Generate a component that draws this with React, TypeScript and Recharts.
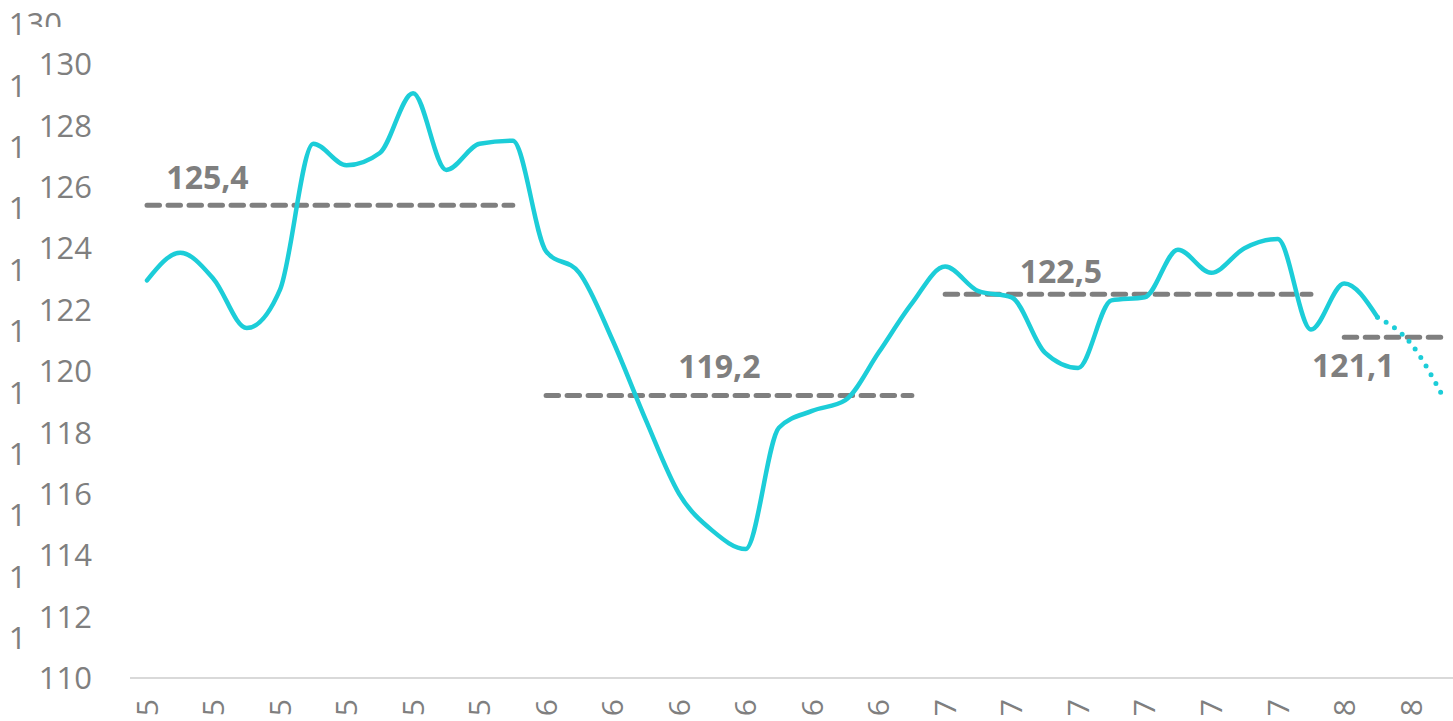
import { LineChart, Line, XAxis, YAxis } from 'recharts';

// monthly index, jan-15 .. apr-18
const MONTHS = [
  'jan-15', 'feb-15', 'mar-15', 'apr-15', 'mai-15', 'jun-15', 'jul-15', 'aug-15', 'sep-15', 'okt-15', 'nov-15', 'des-15',
  'jan-16', 'feb-16', 'mar-16', 'apr-16', 'mai-16', 'jun-16', 'jul-16', 'aug-16', 'sep-16', 'okt-16', 'nov-16', 'des-16',
  'jan-17', 'feb-17', 'mar-17', 'apr-17', 'mai-17', 'jun-17', 'jul-17', 'aug-17', 'sep-17', 'okt-17', 'nov-17', 'des-17',
  'jan-18', 'feb-18', 'mar-18', 'apr-18',
];

const ACTUAL = [
  122.95, 123.85, 123.0, 121.4, 122.65, 127.4, 126.7, 127.1, 129.05, 126.55, 127.4, 127.5,
  123.9, 123.2, 121.0, 118.4, 116.0, 114.8, 114.2, 118.15, 118.7, 119.05, 120.6, 122.2,
  123.4, 122.6, 122.4, 120.6, 120.1, 122.3, 122.4, 123.95, 123.2, 124.0, 124.3, 121.35,
  122.85, 121.75,
];

// dotted tail, starts at the last actual month
const FORECAST_START = 37;
const FORECAST = [121.75, 120.9, 119.1];

// yearly averages, each drawn across its own months
const YEAR_KEYS = ['avg15', 'avg16', 'avg17', 'avg18'];
const YEAR_START = [0, 12, 24, 36];
const YEAR_END = [11, 23, 35, 39];
const YEAR_AVG = [125.4, 119.2, 122.5, 121.1];

const Y_TICKS = [110, 112, 114, 116, 118, 120, 122, 124, 126, 128, 130];

const GREY = '#7f7f7f';
const CYAN = '#1ccdd8';
const FONT = '"Open Sans", sans-serif';

// where each average's number sits, relative to one of its points
const AVG_LABEL_POS = [
  { at: 2, dx: -6, dy: -16 },
  { at: 17, dx: 7, dy: -18 },
  { at: 27, dx: 16, dy: -11 },
  { at: 36, dx: 9, dy: 40 },
];

const data = MONTHS.map((month, i) => {
  const row: Record<string, any> = { month };
  row.actual = i < ACTUAL.length ? ACTUAL[i] : null;
  const f = i - FORECAST_START;
  row.forecast = f >= 0 && f < FORECAST.length ? FORECAST[f] : null;
  YEAR_KEYS.forEach((key, y) => {
    row[key] = i >= YEAR_START[y] && i <= YEAR_END[y] ? YEAR_AVG[y] : null;
  });
  return row;
});

function YTick(props: any) {
  const { x, y, payload, index } = props;
  const v = String(payload.value);
  return (
    <g>
      {index === 0 && (
        <defs>
          <clipPath id="ghost-clip">
            <rect x={0} y={0} width={22} height={721} />
            <rect x={0} y={0} width={300} height={27} />
          </clipPath>
        </defs>
      )}
      {/* faint duplicate of the axis, mostly hidden */}
      <text x={x - 30} y={y - 40} dy="0.36em" textAnchor="end" clipPath="url(#ghost-clip)"
        fill={GREY} fontSize={31} fontFamily={FONT}>{v}</text>
      <text x={x} y={y} dy="0.36em" textAnchor="end" fill={GREY} fontSize={31} fontFamily={FONT}>{v}</text>
    </g>
  );
}

function XTick(props: any) {
  const { x, y, payload } = props;
  return (
    <text x={x} y={y} dy="0.36em" textAnchor="end" transform={`rotate(-90, ${x}, ${y})`}
      fill={GREY} fontSize={30} fontFamily={FONT}>
      {payload.value}
    </text>
  );
}

function avgLabel(yearIdx: number) {
  const pos = AVG_LABEL_POS[yearIdx];
  return (props: any) => {
    const { x, y, index } = props;
    if (index !== pos.at || x == null || y == null) return null;
    return (
      <text key={`lbl-${yearIdx}`} x={x + pos.dx} y={y + pos.dy} textAnchor="middle"
        fill={GREY} fontSize={32} fontWeight={700} fontFamily={FONT}>
        {YEAR_AVG[yearIdx].toFixed(1).replace('.', ',')}
      </text>
    );
  };
}

export default function App() {
  return (
    <div style={{ position: 'absolute', left: 0, top: 0, width: 1453, height: 721, overflow: 'hidden', background: '#fff' }}>
      <LineChart width={1453} height={721} data={data} margin={{ top: 64, right: 0, bottom: 0, left: 0 }}>
        <XAxis
          dataKey="month"
          height={43}
          interval={1}
          tickLine={false}
          tickSize={0}
          tickMargin={21}
          axisLine={{ stroke: '#d9d9d9', strokeWidth: 2 }}
          padding={{ left: 17, right: 9 }}
          tick={<XTick />}
        />
        <YAxis
          width={130}
          domain={[110, 130]}
          ticks={Y_TICKS}
          axisLine={false}
          tickLine={false}
          tickSize={0}
          tickMargin={38}
          tick={<YTick />}
        />
        {YEAR_KEYS.map((key, y) => (
          <Line
            key={key}
            dataKey={key}
            type="linear"
            stroke={GREY}
            strokeWidth={5}
            strokeDasharray="12.5 8.5"
            strokeLinecap="round"
            dot={false}
            activeDot={false}
            label={avgLabel(y)}
            isAnimationActive={false}
          />
        ))}
        <Line
          dataKey="actual"
          type="monotone"
          stroke={CYAN}
          strokeWidth={4.5}
          strokeLinecap="round"
          dot={false}
          activeDot={false}
          isAnimationActive={false}
        />
        <Line
          dataKey="forecast"
          type="monotone"
          stroke={CYAN}
          strokeWidth={5}
          strokeDasharray="0 10"
          strokeLinecap="round"
          dot={false}
          activeDot={false}
          isAnimationActive={false}
        />
      </LineChart>
    </div>
  );
}
